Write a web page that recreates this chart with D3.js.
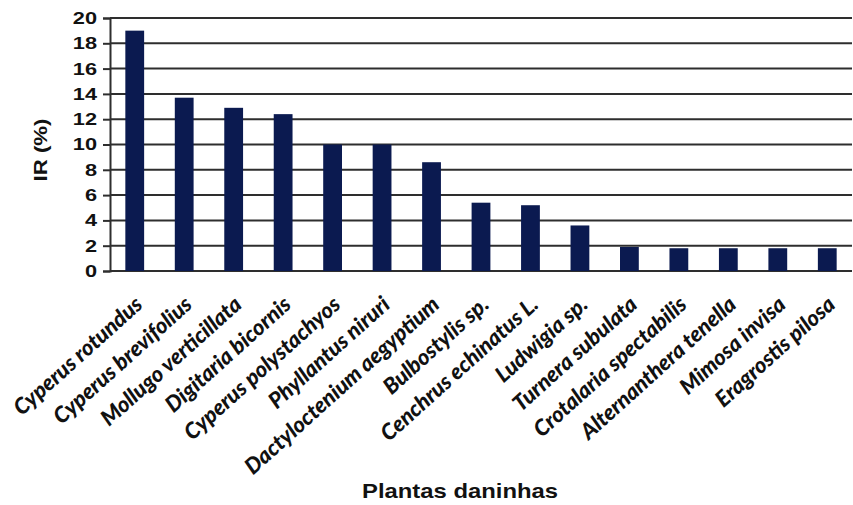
<!DOCTYPE html>
<html>
<head>
<meta charset="utf-8">
<script src="https://cdn.jsdelivr.net/npm/d3@7"></script>
<style>
  html, body { margin: 0; padding: 0; background: #fff; }
  svg { display: block; }
</style>
</head>
<body>
<svg id="chart" width="853" height="505"></svg>
<script>
const categories = [
  "Cyperus rotundus", "Cyperus brevifolius", "Mollugo verticillata", "Digitaria bicornis",
  "Cyperus polystachyos", "Phyllantus niruri", "Dactyloctenium aegyptium", "Bulbostylis sp.",
  "Cenchrus echinatus L.", "Ludwigia sp.", "Turnera subulata", "Crotalaria spectabilis",
  "Alternanthera tenella", "Mimosa invisa", "Eragrostis pilosa"
];
const values = [19.0, 13.7, 12.9, 12.4, 10.0, 10.0, 8.6, 5.4, 5.2, 3.6, 1.9, 1.8, 1.8, 1.8, 1.8];
const yTicks = [0, 2, 4, 6, 8, 10, 12, 14, 16, 18, 20];
const yTitle = "IR (%)";
const xTitle = "Plantas daninhas";

const svg = d3.select("#chart");
const mLeft = 110, mRight = 852, mTop = 18, mBottom = 271;

const x = d3.scaleBand().domain(categories).range([mLeft, mRight]).paddingInner(0.62).paddingOuter(0.31);
const y = d3.scaleLinear().domain([0, 20]).range([mBottom, mTop]);

// gridlines
svg.append("g").selectAll("line").data(yTicks).join("line")
  .attr("x1", mLeft).attr("x2", mRight)
  .attr("y1", d => y(d)).attr("y2", d => y(d))
  .attr("stroke", "#2e2e2e").attr("stroke-width", 2);

// bars
svg.append("g").selectAll("rect").data(values).join("rect")
  .attr("x", (d, i) => x(categories[i]))
  .attr("width", x.bandwidth())
  .attr("y", d => y(d))
  .attr("height", d => y(0) - y(d))
  .attr("fill", "#0b1a50");

// y axis
const yAxis = svg.append("g").attr("transform", `translate(${mLeft},0)`)
  .call(d3.axisLeft(y).tickValues(yTicks).tickSize(7).tickPadding(6));
yAxis.select(".domain").attr("stroke", "#2e2e2e").attr("stroke-width", 2);
yAxis.selectAll(".tick line").attr("stroke", "#2e2e2e").attr("stroke-width", 2);
yAxis.selectAll(".tick text")
  .attr("x", 0)
  .attr("transform", "translate(-13,0) scale(1.28,1)")
  .attr("font-family", "Liberation Sans, Arial, sans-serif")
  .attr("font-weight", "bold").attr("font-size", 17).attr("fill", "#111");

// x labels
svg.append("g").selectAll("text").data(categories).join("text")
  .attr("transform", d => `translate(${x(d) + x.bandwidth() / 2 - 1},${mBottom + 24}) rotate(-42)`)
  .attr("text-anchor", "end")
  .attr("dy", "0.7em")
  .attr("font-family", "Lato, sans-serif")
  .attr("font-weight", 900).attr("font-style", "italic")
  .attr("font-size", 22).attr("fill", "#111")
  .text(d => d);

// y title
svg.append("text")
  .attr("transform", "translate(47,150) rotate(-90)")
  .attr("text-anchor", "middle")
  .attr("textLength", 63).attr("lengthAdjust", "spacingAndGlyphs")
  .attr("font-family", "Liberation Sans, Arial, sans-serif")
  .attr("font-weight", "bold").attr("font-size", 19).attr("fill", "#111")
  .text(yTitle);

// x title
svg.append("text")
  .attr("x", 362).attr("y", 498)
  .attr("textLength", 196).attr("lengthAdjust", "spacingAndGlyphs")
  .attr("font-family", "Liberation Sans, Arial, sans-serif")
  .attr("font-weight", "bold").attr("font-size", 21).attr("fill", "#111")
  .text(xTitle);
</script>
</body>
</html>
